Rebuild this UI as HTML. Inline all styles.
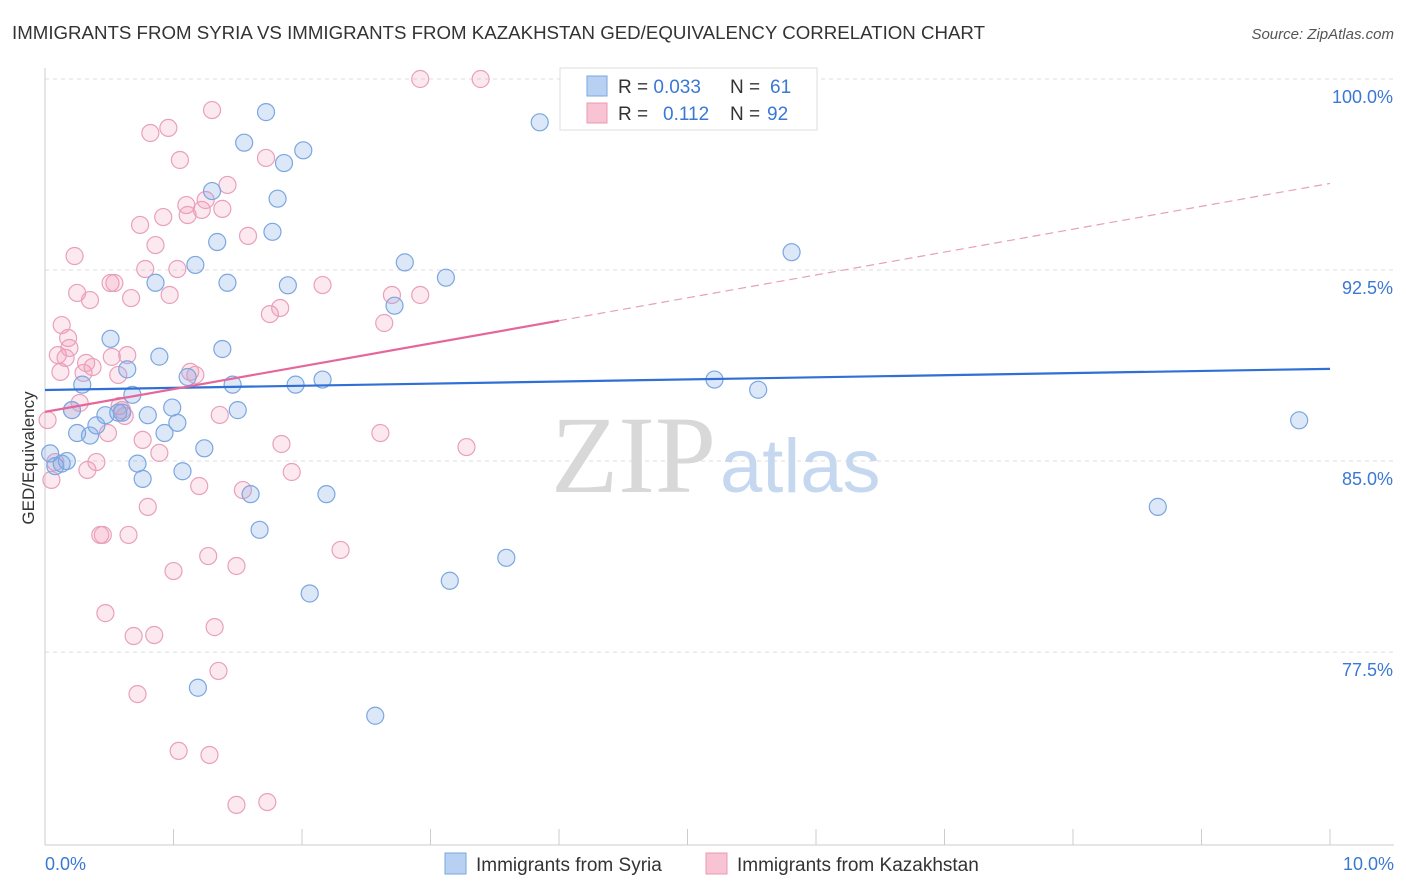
<!DOCTYPE html>
<html><head><meta charset="utf-8"><style>
body{margin:0;background:#fff;font-family:"Liberation Sans",sans-serif}
svg{display:block}
</style></head><body>
<svg id="c" width="1406" height="892">
<text x="12" y="39" font-size="18" fill="#333" textLength="973" lengthAdjust="spacingAndGlyphs">IMMIGRANTS FROM SYRIA VS IMMIGRANTS FROM KAZAKHSTAN GED/EQUIVALENCY CORRELATION CHART</text>
<text x="1394" y="39" font-size="15" fill="#555" font-style="italic" text-anchor="end">Source: ZipAtlas.com</text>
<g id="grid"></g>
<text x="716" y="492" font-size="110" fill="#d8d8d8" font-family="Liberation Serif" text-anchor="end">ZIP</text>
<text x="720" y="492" font-size="76" fill="#c6d8ef">atlas</text>
<g id="pts"></g>
<g id="lines"></g>
<text transform="translate(34,458) rotate(-90)" font-size="17" fill="#333" text-anchor="middle">GED/Equivalency</text>
<text x="45" y="870" font-size="18" fill="#3a78d4">0.0%</text>
<text x="1394" y="870" font-size="18" fill="#3a78d4" text-anchor="end">10.0%</text>
<g>
<rect x="560" y="68" width="257" height="62" fill="#fff" stroke="#ddd"/>
<rect x="587" y="76" width="20" height="20" fill="#b8d0f2" stroke="#7aa7e0"/>
<rect x="587" y="103" width="20" height="20" fill="#f8c4d4" stroke="#e899b5"/>
<text x="618" y="93" font-size="19" fill="#333">R = <tspan fill="#3a78d4">0.033</tspan><tspan x="730">N = </tspan><tspan fill="#3a78d4" x="770">61</tspan></text>
<text x="618" y="120" font-size="19" fill="#333">R = <tspan fill="#3a78d4" x="663">0.112</tspan><tspan x="730">N = </tspan><tspan fill="#3a78d4" x="767">92</tspan></text>
</g>
<g>
<rect x="445" y="853" width="21" height="21" fill="#b8d0f2" stroke="#7aa7e0"/>
<text x="476" y="871" font-size="19" fill="#333">Immigrants from Syria</text>
<rect x="706" y="853" width="21" height="21" fill="#f8c4d4" stroke="#e899b5"/>
<text x="737" y="871" font-size="19" fill="#333">Immigrants from Kazakhstan</text>
</g>
</svg>
<script>
const yTicks=[100,92.5,85,77.5];
const yTickLabels=["100.0%","92.5%","85.0%","77.5%"];
const syriaX=[0.04,0.08,0.13,0.17,0.21,0.25,0.29,0.35,0.40,0.47,0.51,0.57,0.60,0.64,0.68,0.72,0.76,0.80,0.86,0.89,0.93,0.99,1.03,1.07,1.11,1.17,1.19,1.24,1.30,1.34,1.38,1.42,1.46,1.50,1.55,1.60,1.67,1.72,1.77,1.81,1.86,1.89,1.95,2.01,2.06,2.16,2.19,2.57,2.72,2.80,3.12,3.15,3.59,3.85,5.21,5.55,5.81,8.66,9.76];
const syriaY=[85.3,84.8,84.9,85.0,87.0,86.1,88.0,86.0,86.4,86.8,89.8,86.9,86.9,88.6,87.6,84.9,84.3,86.8,92.0,89.1,86.1,87.1,86.5,84.6,88.3,92.7,76.1,85.5,95.6,93.6,89.4,92.0,88.0,87.0,97.5,83.7,82.3,98.7,94.0,95.3,96.7,91.9,88.0,97.2,79.8,88.2,83.7,75.0,91.1,92.8,92.2,80.3,81.2,98.3,88.2,87.8,93.2,83.2,86.6];
const kazX=[0.02,0.05,0.08,0.10,0.12,0.13,0.16,0.18,0.19,0.21,0.23,0.25,0.27,0.30,0.32,0.33,0.35,0.37,0.40,0.43,0.45,0.47,0.49,0.51,0.52,0.54,0.57,0.58,0.60,0.62,0.64,0.65,0.67,0.69,0.72,0.74,0.76,0.78,0.80,0.82,0.85,0.86,0.89,0.92,0.96,0.97,1.00,1.03,1.04,1.05,1.10,1.11,1.13,1.17,1.20,1.22,1.25,1.27,1.28,1.30,1.32,1.35,1.36,1.38,1.42,1.49,1.49,1.54,1.58,1.72,1.73,1.75,1.83,1.84,1.92,2.16,2.30,2.64,2.61,2.70,2.92,2.92,3.28,3.39];
const kazY=[86.61,84.26,84.96,89.16,88.50,90.34,89.05,89.83,89.44,87.00,93.05,91.60,87.28,88.46,88.85,84.65,91.32,88.69,84.96,82.10,82.10,79.03,86.10,91.99,89.09,91.99,88.38,87.16,87.00,86.77,89.16,82.10,91.40,78.13,75.85,94.27,85.83,92.54,83.20,97.88,78.17,93.48,85.32,94.58,98.08,91.52,80.68,92.54,73.62,96.82,95.05,94.66,88.50,88.38,84.02,94.86,95.25,81.27,73.46,98.78,78.48,76.76,86.81,94.90,95.84,71.50,80.88,83.86,93.84,96.90,71.61,90.77,91.01,85.67,84.57,91.91,81.51,90.42,86.10,91.52,91.52,100,85.55,100];
const syriaTrend=[87.79,88.62];
const kazTrendSolid=[86.93,90.51];
const kazTrendDash=[90.51,95.9];
const X0=45,X1=1330,YT=79,PPU=25.47;
const xs=v=>X0+(v/10)*(X1-X0);
const ys=v=>YT+(100-v)*PPU;
const NS="http://www.w3.org/2000/svg";
function mk(t,a,p){const e=document.createElementNS(NS,t);for(const k in a)e.setAttribute(k,a[k]);p.appendChild(e);return e;}
const grid=document.getElementById('grid');
yTicks.forEach((t,i)=>{
 const l=mk('line',{x1:45,x2:1394,y1:ys(t),y2:ys(t),stroke:'#ddd','stroke-dasharray':'4,4'},grid);
 
 
 const tx=mk('text',{x:1393,y:ys(t)+24,'font-size':18,fill:'#3a78d4','text-anchor':'end'},grid);
 tx.textContent=yTickLabels[i];
 
 
});
const ax=mk('line',{x1:45,x2:45,y1:68,y2:845,stroke:'#ccc'},grid);


const bx=mk('line',{x1:45,x2:1394,y1:845,y2:845,stroke:'#ccc'},grid);


for(let i=0;i<=10;i++){
 const tk=mk('line',{x1:xs(i),x2:xs(i),y1:829,y2:845,stroke:'#ccc'},grid);
 
 
}
const pts=document.getElementById('pts');
kazX.forEach((v,i)=>{
 const c=mk('circle',{cx:xs(v),cy:ys(kazY[i]),r:8.5,fill:'rgba(240,150,180,0.22)',stroke:'#eaa0bb','stroke-width':1.2},pts);
 
 
});
syriaX.forEach((v,i)=>{
 const c=mk('circle',{cx:xs(v),cy:ys(syriaY[i]),r:8.5,fill:'rgba(130,170,230,0.28)',stroke:'#7aa7e0','stroke-width':1.2},pts);
 
 
});
const lines=document.getElementById('lines');
const l1=mk('line',{x1:xs(0),x2:xs(10),y1:ys(syriaTrend[0]),y2:ys(syriaTrend[1]),stroke:'#2f6fd6','stroke-width':2.2},lines);


const l2=mk('line',{x1:xs(0),x2:xs(4.0),y1:ys(kazTrendSolid[0]),y2:ys(kazTrendSolid[1]),stroke:'#e5679a','stroke-width':2.2},lines);


const l3=mk('line',{x1:xs(4.0),x2:xs(10),y1:ys(kazTrendDash[0]),y2:ys(kazTrendDash[1]),stroke:'#e5a0bb','stroke-width':1.2,'stroke-dasharray':'8,5'},lines);


</script>
</body></html>
